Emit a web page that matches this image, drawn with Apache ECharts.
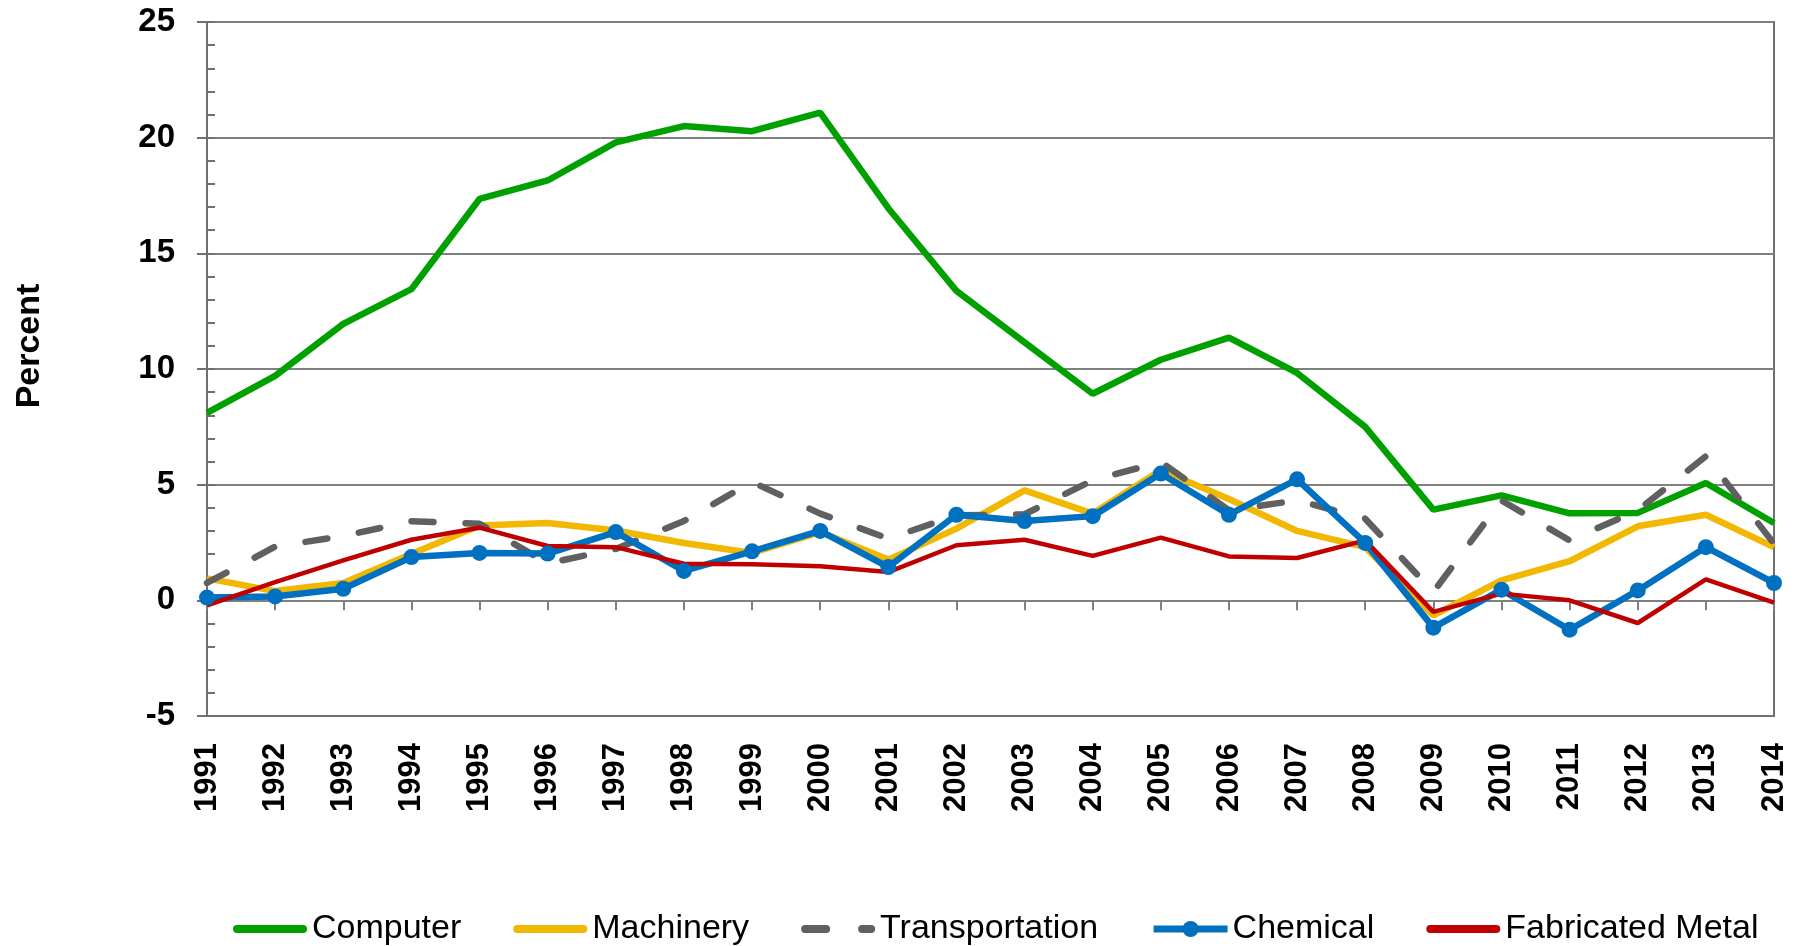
<!DOCTYPE html>
<html>
<head>
<meta charset="utf-8">
<script src="https://cdn.jsdelivr.net/npm/echarts@6/dist/echarts.min.js"></script>
<style>
html,body{margin:0;padding:0;background:#fff;}
#chart{width:1808px;height:946px;}
</style>
</head>
<body>
<div id="chart"></div>
<script>
var years = ['1991','1992','1993','1994','1995','1996','1997','1998','1999','2000','2001','2002','2003','2004','2005','2006','2007','2008','2009','2010','2011','2012','2013','2014'];
var computer = [8.1, 9.7, 11.95, 13.45, 17.35, 18.15, 19.8, 20.5, 20.28, 21.08, 16.95, 13.38, 11.15, 8.93, 10.4, 11.36, 9.83, 7.5, 3.92, 4.54, 3.76, 3.78, 5.07, 3.34];
var machinery = [0.95, 0.4, 0.75, 2.0, 3.24, 3.34, 3.02, 2.48, 2.05, 2.95, 1.76, 3.1, 4.75, 3.75, 5.62, 4.38, 3.0, 2.3, -0.65, 0.86, 1.69, 3.2, 3.7, 2.3];
var transportation = [0.75, 2.32, 2.78, 3.42, 3.31, 1.6, 2.22, 3.43, 5.12, 3.75, 2.67, 3.67, 3.72, 5.19, 5.98, 3.89, 4.32, 3.53, 0.36, 4.32, 2.59, 3.89, 6.23, 2.45];
var chemical = [0.12, 0.17, 0.5, 1.87, 2.05, 2.02, 2.95, 1.27, 2.12, 3.0, 1.44, 3.7, 3.43, 3.64, 5.48, 3.7, 5.23, 2.48, -1.18, 0.46, -1.27, 0.43, 2.3, 0.75];
var fabricatedMetal = [-0.22, 0.79, 1.73, 2.62, 3.14, 2.35, 2.3, 1.58, 1.56, 1.47, 1.22, 2.38, 2.62, 1.92, 2.71, 1.9, 1.83, 2.59, -0.5, 0.29, 0.0, -0.98, 0.91, -0.1];
var seriesNames = ['Computer', 'Machinery', 'Transportation', 'Chemical', 'Fabricated Metal'];
var yTitle = 'Percent';

var FONT = 'Arial, "Liberation Sans", sans-serif';
var solidIcon = 'path://M4,0 H70 A4,4 0 0 1 70,8 H4 A4,4 0 0 1 4,0 Z';
var dashIcon = 'path://M4,0 H25 A4,4 0 0 1 25,8 H4 A4,4 0 0 1 4,0 Z M61,0 H70 A4,4 0 0 1 70,8 H61 A4,4 0 0 1 61,0 Z';

var chart = echarts.init(document.getElementById('chart'));
var option = {
  animation: false,
  backgroundColor: '#ffffff',
  grid: {
    left: 207, right: 34, top: 22, bottom: 230,
    show: true, borderColor: '#707070', borderWidth: 2, backgroundColor: 'transparent'
  },
  legend: {
    left: 228, top: 907,
    itemWidth: 74, itemHeight: 20, itemGap: 52,
    lineStyle: { width: 7 },
    textStyle: { fontFamily: FONT, fontSize: 34, color: '#000' },
    data: [
      { name: seriesNames[0], icon: solidIcon },
      { name: seriesNames[1], icon: solidIcon },
      { name: seriesNames[2], icon: dashIcon },
      { name: seriesNames[3] },
      { name: seriesNames[4], icon: solidIcon }
    ]
  },
  xAxis: [{
    type: 'category', data: years, boundaryGap: false, position: 'bottom',
    axisLine: { show: true, onZero: false, lineStyle: { color: '#707070', width: 2 } },
    axisTick: { show: false },
    axisLabel: { rotate: 90, margin: 27, interval: 0, fontFamily: FONT, fontSize: 31, fontWeight: 'bold', color: '#000' },
    splitLine: { show: false }
  }, {
    type: 'category', data: years, boundaryGap: false, position: 'top',
    axisLine: { show: true, onZero: true, lineStyle: { color: '#808080', width: 2 } },
    axisTick: { show: true, inside: true, length: 10, interval: 0, lineStyle: { color: '#808080', width: 2 } },
    axisLabel: { show: false },
    splitLine: { show: false }
  }],
  yAxis: [{
    type: 'value', min: -5, max: 25, interval: 5,
    name: yTitle, nameLocation: 'middle', nameGap: 160, nameRotate: 90,
    nameTextStyle: { fontFamily: FONT, fontSize: 34, fontWeight: 'bold', color: '#000', padding: [0, 0, 0, 46] },
    axisLine: { show: true, lineStyle: { color: '#707070', width: 2 } },
    axisTick: { show: true, inside: false, length: 10, lineStyle: { color: '#707070', width: 2 } },
    axisLabel: { margin: 32, fontFamily: FONT, fontSize: 33, fontWeight: 'bold', color: '#000' },
    splitLine: { show: true, lineStyle: { color: '#808080', width: 2 } }
  }, {
    type: 'value', min: -5, max: 25, interval: 1, position: 'left',
    axisLine: { show: false },
    axisTick: { show: true, inside: true, length: 8, lineStyle: { color: '#707070', width: 2 } },
    axisLabel: { show: false },
    splitLine: { show: false }
  }],
  series: [{
    name: seriesNames[0], type: 'line', data: computer, symbol: 'none',
    lineStyle: { color: '#00A000', width: 6.5 }, itemStyle: { color: '#00A000' }
  }, {
    name: seriesNames[1], type: 'line', data: machinery, symbol: 'none',
    lineStyle: { color: '#F2B700', width: 6.5 }, itemStyle: { color: '#F2B700' }
  }, {
    name: seriesNames[2], type: 'line', data: transportation, symbol: 'none',
    lineStyle: { color: '#606060', width: 6.5, type: [22, 32], cap: 'round' }, itemStyle: { color: '#606060' }
  }, {
    name: seriesNames[3], type: 'line', data: chemical, symbol: 'circle', symbolSize: 16, showAllSymbol: true,
    lineStyle: { color: '#0070C0', width: 6.5 }, itemStyle: { color: '#0070C0' }
  }, {
    name: seriesNames[4], type: 'line', data: fabricatedMetal, symbol: 'none',
    lineStyle: { color: '#C00000', width: 4.5 }, itemStyle: { color: '#C00000' }
  }]
};
chart.setOption(option);
</script>
</body>
</html>
